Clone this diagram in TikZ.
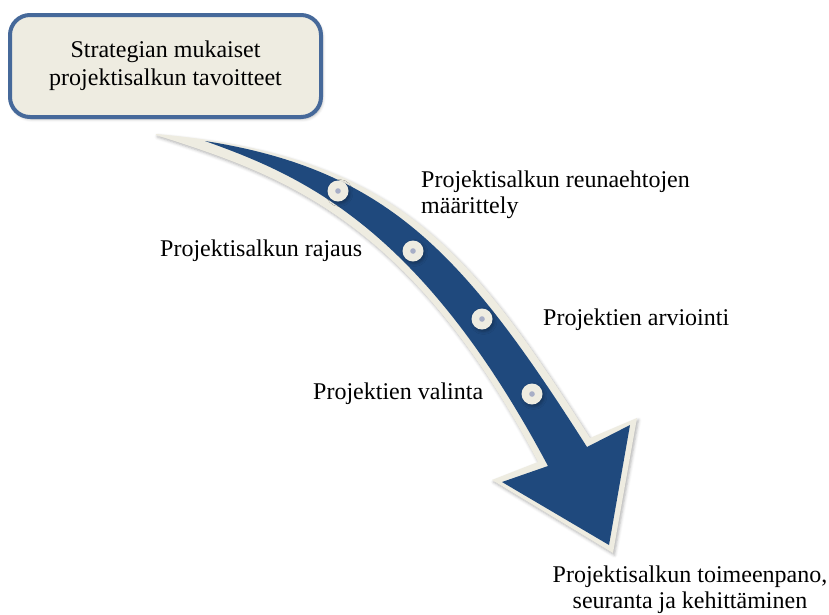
\documentclass[tikz,border=0pt]{standalone}
\usepackage{fontspec}
\setmainfont{Liberation Serif}
\usetikzlibrary{shadows.blur}

\definecolor{bandblue}{HTML}{1F497D}
\definecolor{cream}{HTML}{EEECE1}
\definecolor{frameblue}{HTML}{46699A}
\definecolor{pincore}{HTML}{A7AEC6}

\tikzset{
  softshadow/.style={blur shadow={shadow xshift=1.5pt, shadow yshift=-2pt,
      shadow blur radius=3pt, shadow opacity=30}},
  steplabel/.style={font=\fontsize{24}{25.5}\selectfont, inner sep=0pt},
  goalbox/.style={draw=frameblue, line width=4pt, fill=cream, rounded corners=20pt,
      minimum width=311pt, minimum height=102pt, align=center, inner sep=0pt,
      font=\fontsize{24}{28}\selectfont, softshadow},
  pinhead/.style={circle, fill=cream, minimum size=21pt, inner sep=0pt, softshadow,
      path picture={\fill[pincore] (path picture bounding box.center) circle (2.8pt);}},
}

\begin{document}
\begin{tikzpicture}[x=1pt, y=-1pt]
  \useasboundingbox (0,0) rectangle (829,614);

  % goal box
  \node[goalbox] (goal) at (165.5,66) {Strategian mukaiset\\projektisalkun tavoitteet};

  % curved arrow: cream rim
  \fill[cream, softshadow] (156,134) .. controls (397,155) and (470,250) .. (590,438)
    -- (637,418) -- (613,553) -- (492,480) -- (538,462)
    .. controls (408,215) and (277,174) .. (156,135) -- cycle;
  % curved arrow: blue body
  \fill[bandblue] (205,141) .. controls (390,170) and (466,257) .. (587,447)
    -- (630,425) -- (609,545) -- (502,482) -- (548,466)
    .. controls (420,225) and (300,175) .. (205,141) -- cycle;

  % pins along the arrow
  \node[pinhead] (p1) at (338,191) {};
  \node[pinhead] (p2) at (413,251) {};
  \node[pinhead] (p3) at (482,319) {};
  \node[pinhead] (p4) at (532,394) {};

  % step labels (base anchor of a two-line node sits on its last line)
  \node[steplabel, anchor=base west, align=left] (s1) at (421,213)
    {Projektisalkun reunaehtojen\\määrittely};
  \node[steplabel, anchor=base west] (s2) at (160,256) {Projektisalkun rajaus};
  \node[steplabel, anchor=base west] (s3) at (543,325) {Projektien arviointi};
  \node[steplabel, anchor=base west] (s4) at (313,399) {Projektien valinta};
  \node[steplabel, anchor=base, align=center] (s5) at (690,608)
    {Projektisalkun toimeenpano,\\seuranta ja kehittäminen};
\end{tikzpicture}
\end{document}
